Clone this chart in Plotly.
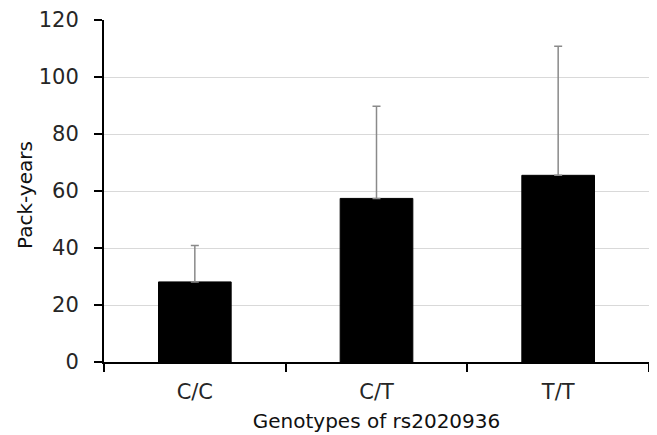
import plotly.graph_objects as go

categories = ["C/C", "C/T", "T/T"]
means = [28.1, 57.4, 65.5]
sd_upper = [12.8, 32.3, 45.3]
y_ticks = [0, 20, 40, 60, 80, 100, 120]
y_title = "Pack-years"
x_title = "Genotypes of rs2020936"

font_family = "DejaVu Sans, Liberation Sans, Arial, sans-serif"
text_color = "#262626"

fig = go.Figure()
fig.add_trace(go.Bar(
    x=categories,
    y=means,
    marker=dict(color="black", line=dict(color="black", width=1)),
    error_y=dict(type="data", array=sd_upper, arrayminus=[0] * len(sd_upper),
                 symmetric=False, color="#8a8a8a", thickness=1.5, width=4),
    showlegend=False,
))

# the page body adds an 8px offset, so margins are shifted accordingly
fig.update_layout(
    width=657, height=435,
    margin=dict(l=96, r=16, t=12, b=81),
    paper_bgcolor="white", plot_bgcolor="white",
    bargap=0.6,
    font=dict(family=font_family, size=20, color=text_color),
)
fig.update_xaxes(
    type="category", range=[-0.5, 2.5], automargin=False,
    showline=True, linecolor="black", linewidth=2,
    ticks="outside", ticklen=8, tickwidth=2, tickcolor="black",
    tickson="boundaries", ticklabelstandoff=10,
    tickfont=dict(size=21, color=text_color),
    title=dict(text=x_title, font=dict(size=20, color="#111111"), standoff=11),
    showgrid=False,
)
fig.update_yaxes(
    range=[0, 120], tickvals=y_ticks, automargin=False,
    showline=True, linecolor="black", linewidth=2,
    ticks="outside", ticklen=8, tickwidth=2, tickcolor="black",
    ticklabelstandoff=11,
    tickfont=dict(size=21, color=text_color),
    showgrid=True, gridcolor="#d9d9d9", gridwidth=1,
    zeroline=False,
)
fig.add_annotation(
    text=y_title, xref="paper", yref="paper", x=0, y=0.5,
    xshift=-79, yshift=-4, xanchor="center", yanchor="middle",
    textangle=-90, showarrow=False,
    font=dict(size=20, color="#111111"),
)

fig.write_html("out.html")
